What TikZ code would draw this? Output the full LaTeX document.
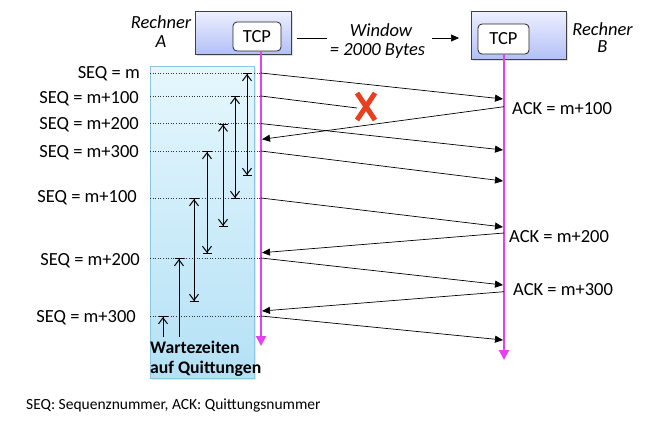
\documentclass[tikz,border=0pt]{standalone}
\usepackage{fontspec}
\setmainfont{Carlito}
\usetikzlibrary{arrows.meta,shadows}
\definecolor{mag}{RGB}{226,64,240}
\definecolor{boxtop}{RGB}{238,240,255}
\definecolor{boxbot}{RGB}{178,192,246}
\definecolor{coltop}{RGB}{230,247,253}
\definecolor{colbot}{RGB}{180,225,246}
\definecolor{colline}{RGB}{140,198,222}
\definecolor{xred}{RGB}{232,64,30}
\begin{document}
\begin{tikzpicture}[x=1pt,y=-1pt,
  lbl/.style={inner sep=0pt,font=\fontsize{18.5}{20}\selectfont},
  rechner/.style={draw=black!75,line width=0.8pt,top color=boxtop,bottom color=boxbot,
     drop shadow={opacity=0.25,shadow xshift=2pt,shadow yshift=-2pt}},
  tcpbox/.style={draw=black!85,line width=0.8pt,fill=white,rounded corners=4pt,inner sep=0pt,
     font=\fontsize{18.5}{20}\selectfont},
  life/.style={draw=mag,line width=2pt,-{Triangle[length=10pt,width=10pt]}},
  msg/.style={draw=black,line width=0.7pt,-{Triangle[length=8pt,width=7pt]}},
  dots/.style={draw=black!80,line width=0.6pt,dotted},
  wait/.style={draw=black,line width=1pt,
     {Bar[width=9pt]Straight Barb[length=6pt,width=9pt]}-{Straight Barb[length=6pt,width=9pt]Bar[width=9pt]}},
  waittop/.style={draw=black,line width=1pt,
     {Bar[width=9pt]Straight Barb[length=6pt,width=9pt]}-}]
\useasboundingbox (0,0) rectangle (655,429);

% waiting column
\path[draw=colline,line width=1pt,top color=coltop,bottom color=colbot,
   drop shadow={opacity=0.2,shadow xshift=1.5pt,shadow yshift=-1.5pt}]
   (150,66) rectangle (254,378);

% computers
\node[rechner,minimum width=96,minimum height=43] (compA) at (243,32.5) {};
\node[tcpbox,minimum width=48,minimum height=29] (tcpA) at (257,36.5) {TCP};
\node[rechner,minimum width=95,minimum height=48] (compB) at (518.5,35) {};
\node[tcpbox,minimum width=51,minimum height=30] (tcpB) at (503.5,39) {TCP};

\node[lbl,anchor=base] (labA1) at (161,28) {\itshape Rechner};
\node[lbl,anchor=base] (labA2) at (161,47.5) {\itshape A};
\node[lbl,anchor=base] (labB1) at (602.5,35) {\itshape Rechner};
\node[lbl,anchor=base] (labB2) at (602.5,52) {\itshape B};

% window
\coordinate (wS) at (297,38);
\coordinate (wE) at (459,38);
\draw[msg] (wS) -- (wE);
\node[lbl,fill=white,minimum width=105,minimum height=40] (win) at (379.5,40) {};
\node[lbl,anchor=base] (win1) at (381,36) {\itshape Window};
\node[lbl,anchor=base] (win2) at (377.5,55) {\itshape = 2000 Bytes};

% lifelines
\coordinate (lA0) at (261,51);
\coordinate (lA1) at (261,346);
\coordinate (lB0) at (504,54);
\coordinate (lB1) at (504,360);
\draw[life] (lA0) -- (lA1);
\draw[life] (lB0) -- (lB1);

% send points on A
\foreach \n/\y in {1/73,2/96,3/123.6,4/151,5/198,6/258,7/316}{
  \coordinate (a\n) at (261,\y);
  \coordinate (d\n) at (150,\y);
  \draw[dots] (d\n) -- (a\n);
}
% receive points on B
\coordinate (b1) at (503,99);
\coordinate (b3) at (503,150);
\coordinate (b4) at (503,181);
\coordinate (b5) at (503,227);
\coordinate (b6) at (503,285);
\coordinate (b7) at (503,340);
\coordinate (lost) at (357,108);
\draw[msg] (a1) -- (b1);
\draw[draw=black,line width=0.7pt] (a2) -- (lost);
\draw[msg] (a3) -- (b3);
\draw[msg] (a4) -- (b4);
\draw[msg] (a5) -- (b5);
\draw[msg] (a6) -- (b6);
\draw[msg] (a7) -- (b7);

% acks
\coordinate (k1s) at (504,106.7);
\coordinate (k1e) at (262,139.3);
\coordinate (k2s) at (504,233);
\coordinate (k2e) at (262,252.7);
\coordinate (k3s) at (504,291.7);
\coordinate (k3e) at (262,311);
\draw[msg] (k1s) -- (k1e);
\draw[msg] (k2s) -- (k2e);
\draw[msg] (k3s) -- (k3e);

% lost marker
\draw[xred,line width=5pt] (357,93) -- (375,120) (375,93) -- (357,120);

% labels
\node[lbl,anchor=base east] (s1) at (140,78) {SEQ = m};
\node[lbl,anchor=base east] (s2) at (139,103) {SEQ = m+100};
\node[lbl,anchor=base east] (s3) at (139,129) {SEQ = m+200};
\node[lbl,anchor=base east] (s4) at (139,157) {SEQ = m+300};
\node[lbl,anchor=base east] (s5) at (137,202) {SEQ = m+100};
\node[lbl,anchor=base east] (s6) at (140,265.7) {SEQ = m+200};
\node[lbl,anchor=base east] (s7) at (136,322) {SEQ = m+300};

\node[lbl,anchor=base west] (ack1) at (512,114) {ACK = m+100};
\node[lbl,anchor=base west] (ack2) at (509,242) {ACK = m+200};
\node[lbl,anchor=base west] (ack3) at (513,295) {ACK = m+300};

% waiting times
\draw[wait] (247,73) -- (247,176);
\draw[wait] (235,96) -- (235,199);
\draw[wait] (223,123.6) -- (223,227);
\draw[wait] (207,151) -- (207,254);
\draw[wait] (194,198) -- (194,302);
\draw[waittop] (179,258) -- (179,337);
\draw[waittop] (163,316) -- (163,337);

\node[inner sep=0pt,anchor=base west,font=\fontsize{17.7}{20}\selectfont\bfseries] (wz1) at (150,353) {Wartezeiten};
\node[inner sep=0pt,anchor=base west,font=\fontsize{17.7}{20}\selectfont\bfseries] (wz2) at (150,373) {auf Quittungen};

\node[inner sep=0pt,anchor=base west,font=\fontsize{15.5}{18}\selectfont] (foot) at (26,409) {SEQ: Sequenznummer, ACK: Quittungsnummer};
\end{tikzpicture}
\end{document}
